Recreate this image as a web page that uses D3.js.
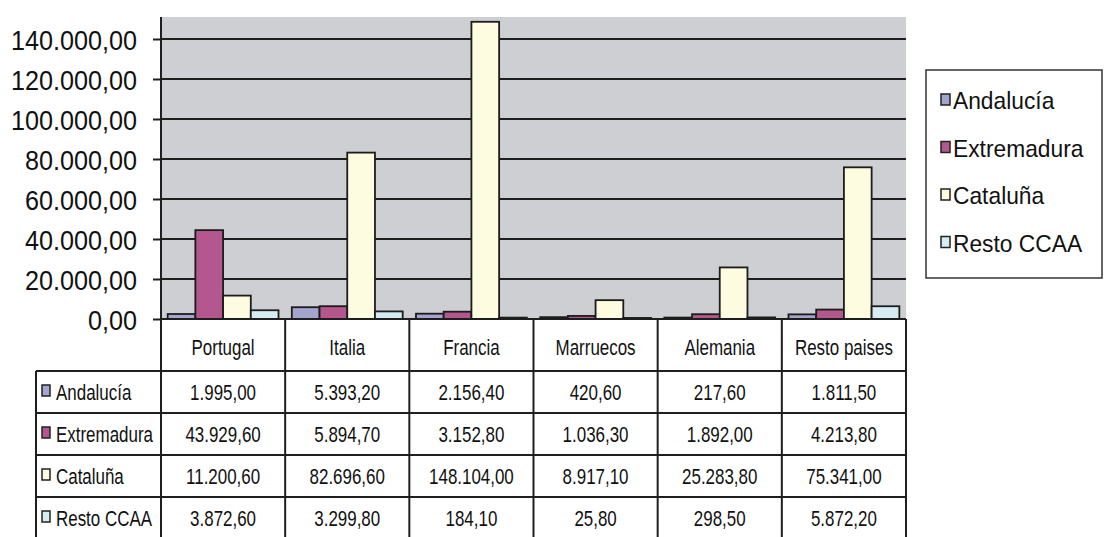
<!DOCTYPE html>
<html>
<head>
<meta charset="utf-8">
<script src="https://cdn.jsdelivr.net/npm/d3@7"></script>
<style>
  body { margin: 0; background: #fff; }
  svg { display: block; font-family: "Liberation Sans", Arial, sans-serif; }
</style>
</head>
<body>
<div id="chart"></div>
<script>
// Data
const countries = ["Portugal", "Italia", "Francia", "Marruecos", "Alemania", "Resto paises"];
const regions = ["Andalucía", "Extremadura", "Cataluña", "Resto CCAA"];
const andalucia   = [1995.00, 5393.20, 2156.40, 420.60, 217.60, 1811.50];
const extremadura = [43929.60, 5894.70, 3152.80, 1036.30, 1892.00, 4213.80];
const cataluna    = [11200.60, 82696.60, 148104.00, 8917.10, 25283.80, 75341.00];
const restoCCAA   = [3872.60, 3299.80, 184.10, 25.80, 298.50, 5872.20];
const yTicks = [0, 20000, 40000, 60000, 80000, 100000, 120000, 140000];

const seriesValues = [andalucia, extremadura, cataluna, restoCCAA];
const colors = ["#a4a4cf", "#b4578e", "#fdfbe0", "#d6ecf3"];

// Spanish number format: 140.000,00
const es = d3.formatLocale({ decimal: ",", thousands: ".", grouping: [3], currency: ["", " €"] });
const fmt = es.format(",.2f");

const width = 1104, height = 537;
const plot = { left: 161, right: 906, top: 17, bottom: 319 };
const tableLeft = 36, headerH = 52, rowH = 42;

const svg = d3.select("#chart").append("svg")
    .attr("width", width)
    .attr("height", height);

// Scales
const x0 = d3.scaleBand()
    .domain(countries)
    .range([plot.left, plot.right])
    .paddingInner(0).paddingOuter(0);

const x1 = d3.scaleBand()
    .domain(regions)
    .range([0, x0.bandwidth()])
    .paddingInner(0).paddingOuter(0.24);

const y = d3.scaleLinear()
    .domain([0, 151000])
    .range([plot.bottom, plot.top]);

// helper: narrow-looking text (the source is horizontally squeezed)
function label(g, x, yy, txt, size, sx, anchor) {
  return g.append("text")
      .attr("transform", `translate(${x},${yy}) scale(${sx},1)`)
      .attr("text-anchor", anchor)
      .attr("dy", "0.35em")
      .attr("font-size", size)
      .attr("fill", "#111")
      .text(txt);
}

// Plot background
svg.append("rect")
    .attr("x", plot.left).attr("y", plot.top)
    .attr("width", plot.right - plot.left)
    .attr("height", plot.bottom - plot.top)
    .attr("fill", "#cdcfd2");

// Gridlines
svg.append("g")
  .selectAll("line")
  .data(yTicks.slice(1))
  .join("line")
    .attr("x1", plot.left).attr("x2", plot.right)
    .attr("y1", d => y(d)).attr("y2", d => y(d))
    .attr("stroke", "#1e1e1e")
    .attr("stroke-width", 2);

// Bars
const group = svg.append("g")
  .selectAll("g")
  .data(countries)
  .join("g")
    .attr("transform", d => `translate(${x0(d)},0)`);

group.selectAll("rect")
  .data((c, i) => regions.map((r, j) => ({ region: r, value: seriesValues[j][i], j })))
  .join("rect")
    .attr("x", d => x1(d.region))
    .attr("y", d => y(d.value) - 1)
    .attr("width", x1.bandwidth())
    .attr("height", d => plot.bottom - y(d.value) + 1)
    .attr("fill", d => colors[d.j])
    .attr("stroke", "#1c1c1c")
    .attr("stroke-width", 1.8);

// Y axis
const yAxis = svg.append("g")
    .attr("transform", `translate(${plot.left},0)`)
    .call(d3.axisLeft(y).tickValues(yTicks).tickSize(8).tickFormat(fmt));

yAxis.select(".domain")
    .attr("d", `M0,${plot.top}V${plot.bottom}`)
    .attr("stroke", "#1e1e1e").attr("stroke-width", 2);
yAxis.selectAll(".tick line").attr("stroke", "#1e1e1e").attr("stroke-width", 2);
yAxis.selectAll(".tick text")
    .attr("font-family", "Liberation Sans, Arial, sans-serif")
    .attr("font-size", 28)
    .attr("fill", "#111")
    .attr("x", -24 / 0.9)
    .attr("dy", "0.36em")
    .attr("transform", "scale(0.9,1)");

// Data table
const table = svg.append("g");
const tableBottom = plot.bottom + headerH + rowH * regions.length;
const lineCol = "#1e1e1e";

// header row
table.append("line")
    .attr("x1", plot.left).attr("x2", plot.right)
    .attr("y1", plot.bottom).attr("y2", plot.bottom)
    .attr("stroke", lineCol).attr("stroke-width", 2);

// row lines
regions.forEach((r, i) => {
  const yy = plot.bottom + headerH + rowH * i;
  table.append("line")
      .attr("x1", tableLeft).attr("x2", plot.right)
      .attr("y1", yy).attr("y2", yy)
      .attr("stroke", lineCol).attr("stroke-width", 2);
});

// vertical lines at category boundaries
const bounds = countries.map(c => x0(c)).concat([plot.right]);
table.selectAll(".vline")
  .data(bounds)
  .join("line")
    .attr("class", "vline")
    .attr("x1", d => d).attr("x2", d => d)
    .attr("y1", plot.bottom).attr("y2", tableBottom)
    .attr("stroke", lineCol).attr("stroke-width", 2);

table.append("line")
    .attr("x1", tableLeft).attr("x2", tableLeft)
    .attr("y1", plot.bottom + headerH).attr("y2", tableBottom)
    .attr("stroke", lineCol).attr("stroke-width", 2);

// header labels
countries.forEach(c => {
  label(table, x0(c) + x0.bandwidth() / 2, plot.bottom + 28, c, 22, 0.77, "middle");
});

// row labels + values
regions.forEach((r, j) => {
  const cy = plot.bottom + headerH + rowH * j + rowH / 2;
  table.append("rect")
      .attr("x", 42).attr("y", cy - 7)
      .attr("width", 8).attr("height", 11)
      .attr("fill", colors[j])
      .attr("stroke", "#222").attr("stroke-width", 1.5);
  label(table, 56, cy, r, 22, 0.77, "start");
  countries.forEach((c, i) => {
    label(table, x0(c) + x0.bandwidth() / 2, cy, fmt(seriesValues[j][i]), 22, 0.77, "middle");
  });
});

// Legend
const legend = svg.append("g");
legend.append("rect")
    .attr("x", 926).attr("y", 70)
    .attr("width", 176).attr("height", 208)
    .attr("fill", "#fff")
    .attr("stroke", "#333").attr("stroke-width", 1.5);

regions.forEach((r, j) => {
  const cy = 101 + j * 47.5;
  legend.append("rect")
      .attr("x", 941).attr("y", cy - 7)
      .attr("width", 9).attr("height", 11)
      .attr("fill", colors[j])
      .attr("stroke", "#222").attr("stroke-width", 1.5);
  label(legend, 953, cy, r, 24, 0.95, "start");
});
</script>
</body>
</html>
